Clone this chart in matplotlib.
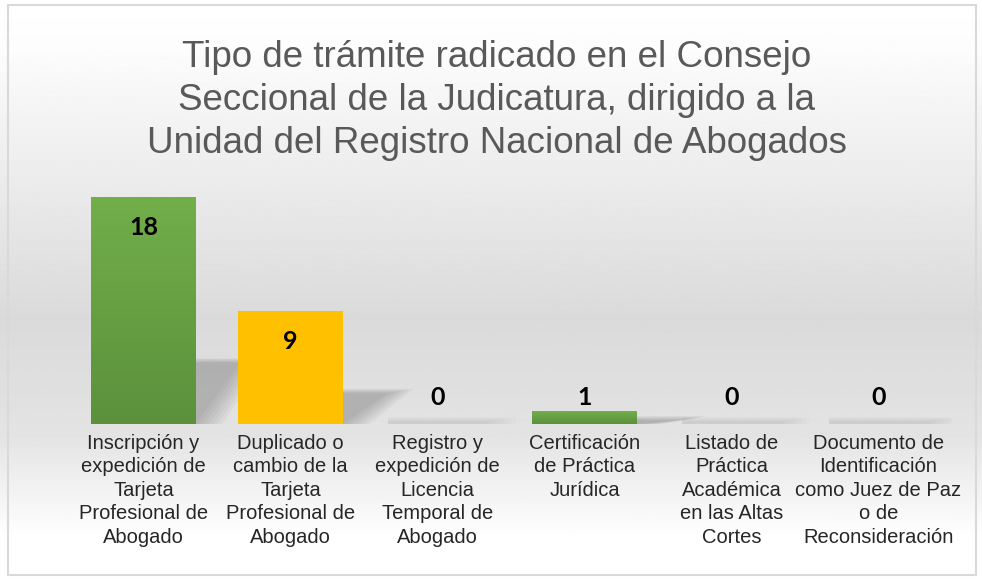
import numpy as np
import matplotlib
matplotlib.use("Agg")
import matplotlib.pyplot as plt
from matplotlib.patches import Rectangle, Polygon
from matplotlib.colors import LinearSegmentedColormap

# data
categories = [
    "Inscripción y\nexpedición de\nTarjeta\nProfesional de\nAbogado",
    "Duplicado o\ncambio de la\nTarjeta\nProfesional de\nAbogado",
    "Registro y\nexpedición de\nLicencia\nTemporal de\nAbogado",
    "Certificación\nde Práctica\nJurídica",
    "Listado de\nPráctica\nAcadémica\nen las Altas\nCortes",
    "Documento de\nIdentificación\ncomo Juez de Paz\no de\nReconsideración",
]
values = [18, 9, 0, 1, 0, 0]
bar_colors = ["green", "yellow", "green", "green", "green", "green"]

title = ("Tipo de trámite radicado en el Consejo\n"
         "Seccional de la Judicatura, dirigido a la\n"
         "Unidad del Registro Nacional de Abogados")

plt.rcParams['font.family'] = ['Liberation Sans', 'DejaVu Sans']

fig = plt.figure(figsize=(9.82, 5.79), dpi=100)

# background gradient (white -> light gray -> white) and frame
bg = fig.add_axes([0, 0, 1, 1], zorder=-10)
bg.set_axis_off()
yy = np.linspace(0, 1, 400)
shade = np.interp(yy, [0, 0.08, 0.55, 0.75, 0.93, 1.0], [1.0, 0.99, 0.855, 0.89, 1.0, 1.0])
bg.imshow(shade[:, None], aspect='auto', cmap='gray', vmin=0, vmax=1,
          extent=[0, 1, 0, 1], origin='upper')
bg.set_xlim(0, 1)
bg.set_ylim(0, 1)
bg.add_patch(Rectangle((8 / 982, 4 / 579), 968 / 982, 570 / 579, fill=False,
                       edgecolor='#d9d9d9', lw=1.5, transform=bg.transAxes))

ax = fig.add_axes([70 / 982, (579 - 424) / 579, 882 / 982, 252 / 579])
ax.set_facecolor('none')

x = np.arange(len(values))
w = 0.714

# soft perspective shadows behind the bars
for xi, v in zip(x, values):
    if v > 0:
        h, skew, a = v * 0.27, 0.3, 0.07
    else:
        h, skew, a = 0.2, 0.0, 0.025
    for k in range(7):
        e = k * 0.03
        poly = Polygon([(xi - w / 2 + 0.02, 0), (xi + w / 2 + e, 0),
                        (xi + w / 2 + skew + e, h + e * 2),
                        (xi - w / 2 + skew + 0.02, h + e * 2)],
                       closed=True, facecolor='#707070', edgecolor='none',
                       alpha=a, zorder=1)
        ax.add_patch(poly)

# bars, green ones with a vertical gradient
green_cmap = LinearSegmentedColormap.from_list('g', ['#5b913c', '#72ae4a'])
bars = ax.bar(x, values, width=w, color='none', edgecolor='none', zorder=3)
for b, c in zip(bars, bar_colors):
    if b.get_height() == 0:
        continue
    x0, y0 = b.get_x(), b.get_y()
    bw, bh = b.get_width(), b.get_height()
    if c == "yellow":
        ax.add_patch(Rectangle((x0, y0), bw, bh, facecolor='#ffc000',
                               edgecolor='none', zorder=3))
    else:
        grad = np.linspace(0, 1, 100)[:, None]
        ax.imshow(grad, cmap=green_cmap, aspect='auto', origin='lower',
                  extent=[x0, x0 + bw, y0, y0 + bh], zorder=3)

# value labels
for xi, v in zip(x, values):
    if v >= 5:
        ax.annotate(str(v), (xi, v), xytext=(0, -22), textcoords='offset points',
                    ha='center', va='center', fontsize=18, fontweight='bold',
                    family='Lato', color='black', zorder=5)
    else:
        ax.annotate(str(v), (xi, max(v, 1)), xytext=(0, 10), textcoords='offset points',
                    ha='center', va='center', fontsize=18, fontweight='bold',
                    family='Lato', color='black', zorder=5)

ax.set_xlim(-0.5, len(values) - 0.5)
ax.set_ylim(0, 20)
ax.set_xticks(x)
ax.set_xticklabels(categories, fontsize=14.5, color='#262626', linespacing=1.3,
                   va='top')
ax.tick_params(axis='x', length=0, pad=7)
ax.set_yticks([])
for s in ax.spines.values():
    s.set_visible(False)

fig.text(0.506, 0.826, title, ha='center', va='center', fontsize=26.5,
         color='#595959', linespacing=1.3)

fig.savefig('out.png', dpi=100)
